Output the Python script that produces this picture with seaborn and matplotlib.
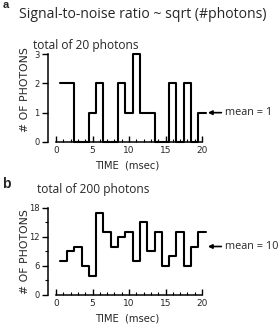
import numpy as np
import pandas as pd
import matplotlib
matplotlib.use("Agg")
import matplotlib.pyplot as plt
from matplotlib.ticker import FixedLocator
import seaborn as sns

# datos (un valor por ms, t = 1..20)
time_ms = list(range(1, 21))
photons_20 = [2, 2, 0, 0, 1, 2, 0, 0, 2, 1, 3, 1, 1, 0, 0, 2, 0, 2, 0, 1]
photons_200 = [7, 9, 10, 6, 4, 17, 13, 10, 12, 13, 7, 15, 9, 13, 6, 8, 13, 6, 10, 13]
mean_20 = 1
mean_200 = 10
bin_edges = [t - 0.5 for t in time_ms] + [20.5]

sns.set_theme(style="ticks")
plt.rcParams['font.family'] = ['Open Sans', 'DejaVu Sans']
cond = ['DejaVu Sans']

W, H = 280, 326
fig = plt.figure(figsize=(W / 100, H / 100), dpi=100)


def fx(x):
    return x / W


def fy(y):
    return 1 - y / H


def panel(bottom_px, top_px, values, ymax, yticks, yminor, mean, mean_label, ylab_y):
    left_px, right_px = 48, 206.4
    ax = fig.add_axes([fx(left_px), fy(bottom_px), (right_px - left_px) / W,
                       (bottom_px - top_px) / H])
    df = pd.DataFrame({'t': time_ms, 'n': values})
    sns.histplot(data=df, x='t', weights='n', bins=bin_edges, element='step',
                 fill=False, color='black', linewidth=1.5, ax=ax)
    for ln in ax.lines:
        ln.set_clip_on(False)
    ax.set_xlim(-1.1, 20.6)
    ax.set_ylim(0, ymax)
    sns.despine(ax=ax)
    ax.spines['bottom'].set_bounds(0, 20)
    for s in ['left', 'bottom']:
        ax.spines[s].set_linewidth(1.1)
        ax.spines[s].set_color('black')
    ax.xaxis.set_major_locator(FixedLocator([0, 5, 10, 15, 20]))
    ax.xaxis.set_minor_locator(FixedLocator(range(0, 21)))
    ax.yaxis.set_major_locator(FixedLocator(yticks))
    ax.yaxis.set_minor_locator(FixedLocator(yminor))
    ax.tick_params(axis='x', which='major', direction='in', length=4, width=1,
                   pad=3, labelsize=6.5, color='black')
    ax.tick_params(axis='x', which='minor', direction='in', length=2.5, width=0.8,
                   color='black')
    ax.tick_params(axis='y', which='major', direction='out', length=4, width=1,
                   pad=2, labelsize=6, color='black')
    ax.tick_params(axis='y', which='minor', direction='out', length=2.5, width=0.8,
                   color='black')
    for lab in ax.get_xticklabels() + ax.get_yticklabels():
        lab.set_family(cond)
    ax.set_xlabel('TIME  (msec)', family=cond, fontsize=7.2, labelpad=4)
    ax.set_ylabel('# OF PHOTONS', family=cond, fontsize=7.8)
    ax.yaxis.set_label_coords(-0.115, ylab_y)
    ax.annotate(mean_label, xy=(20.8, mean), xytext=(23.1, mean),
                va='center', ha='left', fontsize=7.8, annotation_clip=False,
                arrowprops=dict(arrowstyle='-|>', color='black', lw=1.2,
                                mutation_scale=6, shrinkA=0, shrinkB=0))
    return ax


ax_a = panel(142, 54, photons_20, 3, [0, 1, 2, 3], [], mean_20, 'mean = 1', 0.6)
ax_b = panel(295, 207.7, photons_200, 18, [0, 6, 12, 18], [3, 9, 15], mean_200,
             'mean = 10', 0.5)

fig.text(fx(3), fy(5), 'a', fontsize=8, fontweight='bold', family=['Liberation Sans'],
         va='center')
fig.text(fx(19), fy(15), 'Signal-to-noise ratio ~ sqrt (#photons)', fontsize=10.1,
         va='center')
fig.text(fx(33), fy(45), 'total of 20 photons', fontsize=8.6, va='center')
fig.text(fx(2), fy(184), 'b', fontsize=10, fontweight='bold', family=['Liberation Sans'],
         va='center')
fig.text(fx(37), fy(189), 'total of 200 photons', fontsize=8.6, va='center')

fig.savefig('out.png', dpi=100)
